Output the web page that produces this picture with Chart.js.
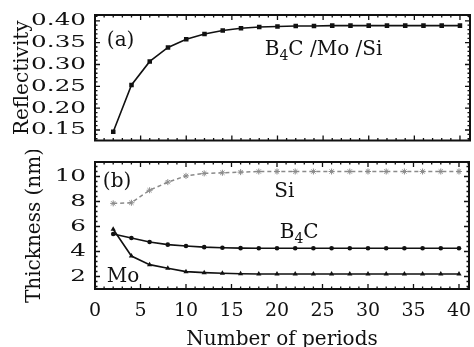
<!DOCTYPE html>
<html>
<head>
<meta charset="utf-8">
<script src="https://cdn.jsdelivr.net/npm/chart.js@4.4.1/dist/chart.umd.min.js"></script>
<style>
  html, body { margin: 0; padding: 0; background: #fff; overflow: hidden; }
  #top { position: absolute; left: 0; top: 0; width: 474px; height: 150px; }
  #bot { position: absolute; left: 0; top: 150px; width: 474px; height: 197px; }
</style>
</head>
<body>
<div id="top"><canvas id="chartA"></canvas></div>
<div id="bot"><canvas id="chartB"></canvas></div>
<script>
// number of periods (x) for every point
var periods = [2, 4, 6, 8, 10, 12, 14, 16, 18, 20, 22, 24, 26, 28, 30, 32, 34, 36, 38, 40];

// (a) reflectivity of the B4C/Mo/Si stack
var reflectivity = [0.146, 0.253, 0.307, 0.339, 0.358, 0.370, 0.378, 0.383, 0.386, 0.387,
                    0.388, 0.388, 0.389, 0.389, 0.389, 0.389, 0.389, 0.389, 0.389, 0.389];

// (b) layer thickness, nm
var siThick  = [7.85, 7.9, 8.9, 9.55, 10.05, 10.25, 10.3, 10.35, 10.4, 10.4,
                10.4, 10.4, 10.4, 10.4, 10.4, 10.4, 10.4, 10.4, 10.4, 10.4];
var b4cThick = [5.4, 5.08, 4.76, 4.55, 4.44, 4.35, 4.3, 4.27, 4.26, 4.26,
                4.26, 4.26, 4.26, 4.26, 4.26, 4.26, 4.26, 4.26, 4.26, 4.26];
var moThick  = [5.78, 3.64, 2.95, 2.66, 2.39, 2.31, 2.26, 2.22, 2.2, 2.2,
                2.2, 2.2, 2.2, 2.2, 2.2, 2.2, 2.2, 2.2, 2.2, 2.2];

// tick labels
var periodTicks = [0, 5, 10, 15, 20, 25, 30, 35, 40];
var reflTicks = [0.15, 0.20, 0.25, 0.30, 0.35, 0.40];
var thickTicks = [2, 4, 6, 8, 10];

var FONT = 'DejaVu Serif';
var INK = '#111';
Chart.defaults.font.family = FONT;
Chart.defaults.color = INK;

function pts(ys) {
  return periods.map(function (p, i) { return { x: p, y: ys[i] }; });
}

// frame with inward ticks on all four sides + the in-plot labels
var framePlugin = {
  id: 'frame',
  afterDatasetsDraw: function (chart, args, opts) {
    var a = chart.chartArea, ctx = chart.ctx;
    var xs = chart.scales.x, ys = chart.scales.y;
    ctx.save();
    ctx.strokeStyle = INK;
    ctx.lineWidth = 2;
    ctx.strokeRect(a.left, a.top, a.right - a.left, a.bottom - a.top);
    ctx.lineWidth = 1.3;
    ctx.beginPath();
    for (var v = 1; v < xs.max; v++) {
      var px = xs.getPixelForValue(v);
      var len = v % 5 === 0 ? 5 : 2.5;
      ctx.moveTo(px, a.bottom); ctx.lineTo(px, a.bottom - len);
      ctx.moveTo(px, a.top); ctx.lineTo(px, a.top + len);
    }
    var step = opts.yMinor;
    for (var i = Math.ceil(ys.min / step - 1e-6); i * step < ys.max - 1e-6; i++) {
      var py = ys.getPixelForValue(i * step);
      var l2 = i % 5 === 0 ? 5 : 2.5;
      ctx.moveTo(a.left, py); ctx.lineTo(a.left + l2, py);
      ctx.moveTo(a.right, py); ctx.lineTo(a.right - l2, py);
    }
    ctx.stroke();

    // labels: parts with optional subscript
    ctx.fillStyle = INK;
    ctx.textBaseline = 'alphabetic';
    ctx.textAlign = 'left';
    (opts.notes || []).forEach(function (n) {
      var x = xs.getPixelForValue(n.x), y = ys.getPixelForValue(n.y);
      n.parts.forEach(function (p) {
        ctx.font = (p.sub ? 14 : 20) + 'px "' + FONT + '"';
        ctx.fillText(p.t, x, y + (p.sub ? 5 : 0));
        x += ctx.measureText(p.t).width;
      });
    });
    ctx.restore();
  }
};

// y tick labels in the figure are drawn wide; stretch them sideways
var stretchPlugin = {
  id: 'stretchY',
  afterLayout: function (chart) {
    var s = chart.scales.y;
    if (s._stretched) return;
    var orig = s.drawLabels;
    s.drawLabels = function (area) {
      var x0 = this.right - this.options.ticks.padding;
      this.ctx.save();
      this.ctx.translate(x0, 0);
      this.ctx.scale(1.45, 1);
      this.ctx.translate(-x0, 0);
      orig.call(this, area);
      this.ctx.restore();
    };
    s._stretched = true;
  }
};

function yAxis(min, max, ticks, digits, title, titlePad) {
  return {
    type: 'linear', min: min, max: max,
    afterBuildTicks: function (s) { s.ticks = ticks.map(function (v) { return { value: v }; }); },
    afterFit: function (s) { s.width = 95; s.paddingTop = 0; s.paddingBottom = 0; },
    grid: { display: false, drawTicks: false },
    border: { display: false },
    ticks: { padding: 9, color: INK, font: { size: 17 },
             callback: function (v) { return v.toFixed(digits); } },
    title: { display: true, text: title, color: INK, font: { size: 20 },
             padding: { top: titlePad, bottom: 0 } }
  };
}

var common = {
  responsive: true,
  maintainAspectRatio: false,
  animation: false,
  events: [],
  plugins: { legend: { display: false }, tooltip: { enabled: false } }
};

new Chart(document.getElementById('chartA'), {
  type: 'line',
  data: {
    datasets: [{
      label: 'Reflectivity',
      data: pts(reflectivity),
      borderColor: INK, borderWidth: 1.6,
      pointStyle: 'rect', pointRadius: 3.2,
      pointBackgroundColor: INK, pointBorderWidth: 0
    }]
  },
  options: Object.assign({}, common, {
    layout: { padding: { top: 15, bottom: 9.5, left: 0, right: 0 } },
    scales: {
      x: { type: 'linear', min: 0, max: 41.1, display: false },
      y: yAxis(0.126, 0.4133, reflTicks, 2, 'Reflectivity', 11)
    },
    plugins: Object.assign({}, common.plugins, {
      frame: {
        yMinor: 0.01,
        notes: [
          { x: 1.3, y: 0.342, parts: [{ t: '(a)' }] },
          { x: 18.6, y: 0.3206, parts: [{ t: 'B' }, { t: '4', sub: true }, { t: 'C /Mo /Si' }] }
        ]
      }
    })
  }),
  plugins: [framePlugin, stretchPlugin]
});

new Chart(document.getElementById('chartB'), {
  type: 'line',
  data: {
    datasets: [{
      label: 'Si',
      data: pts(siThick),
      borderColor: '#8a8a8a', borderWidth: 1.5, borderDash: [4, 3],
      pointStyle: 'star', pointRadius: 3,
      pointBorderColor: '#8a8a8a', pointBorderWidth: 1
    }, {
      label: 'B4C',
      data: pts(b4cThick),
      borderColor: INK, borderWidth: 1.6,
      pointStyle: 'circle', pointRadius: 2.3,
      pointBackgroundColor: INK, pointBorderWidth: 0
    }, {
      label: 'Mo',
      data: pts(moThick),
      borderColor: INK, borderWidth: 1.6,
      pointStyle: 'triangle', pointRadius: 3,
      pointBackgroundColor: INK, pointBorderWidth: 0
    }]
  },
  options: Object.assign({}, common, {
    layout: { padding: { top: 12, bottom: 0, left: 0, right: 0 } },
    scales: {
      x: {
        type: 'linear', min: 0, max: 41.1,
        afterBuildTicks: function (s) { s.ticks = periodTicks.map(function (v) { return { value: v }; }); },
        afterFit: function (s) { s.height = 58; s.paddingLeft = 0; s.paddingRight = 0; },
        grid: { display: false, drawTicks: false },
        border: { display: false },
        ticks: { padding: 11, maxRotation: 0, autoSkip: false, color: INK, font: { size: 19 } },
        title: { display: true, text: 'Number of periods', color: INK,
                 font: { size: 20, lineHeight: 0.75 }, padding: { top: 0, bottom: 0 } }
      },
      y: yAxis(1.0, 11.16, thickTicks, 0, 'Thickness (nm)', 23)
    },
    plugins: Object.assign({}, common.plugins, {
      frame: {
        yMinor: 0.4,
        notes: [
          { x: 0.86, y: 9.16, parts: [{ t: '(b)' }] },
          { x: 19.7, y: 8.36, parts: [{ t: 'Si' }] },
          { x: 20.3, y: 5.08, parts: [{ t: 'B' }, { t: '4', sub: true }, { t: 'C' }] },
          { x: 1.3, y: 1.56, parts: [{ t: 'Mo' }] }
        ]
      }
    })
  }),
  plugins: [framePlugin, stretchPlugin]
});
</script>
</body>
</html>
